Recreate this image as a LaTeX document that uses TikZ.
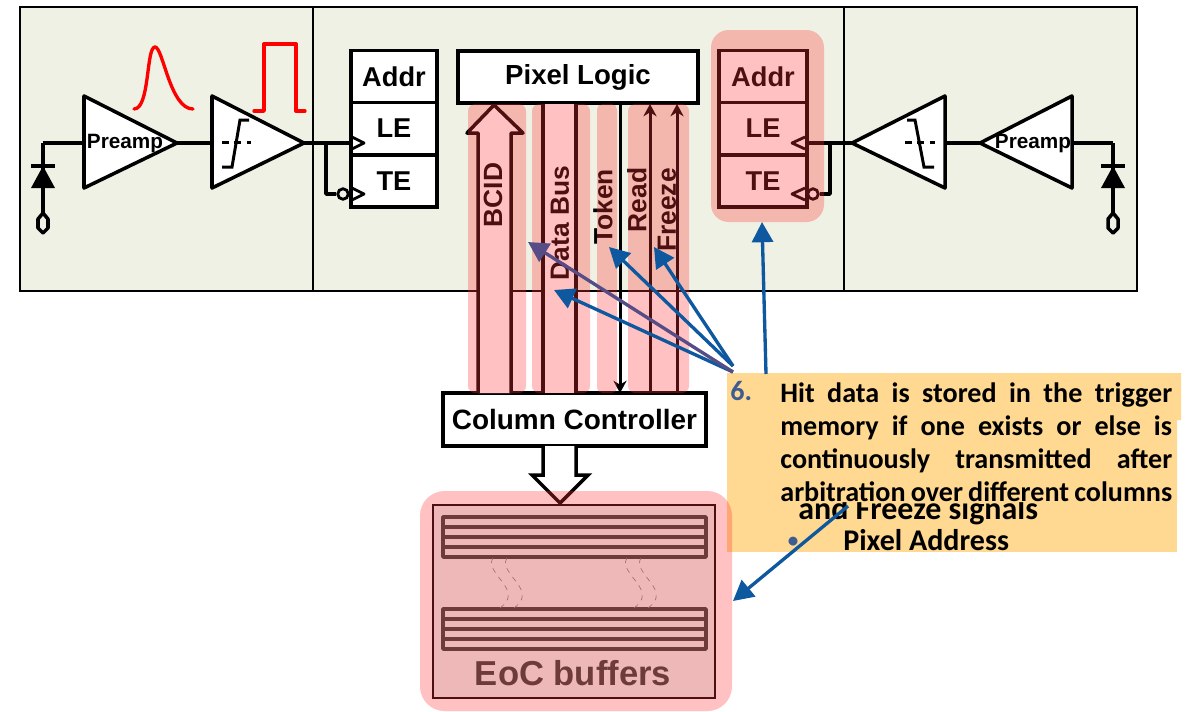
\documentclass[tikz,border=0pt]{standalone}
\usepackage{fontspec}
\setmainfont{Liberation Sans}
\newfontfamily\hitfont{Carlito}
\usetikzlibrary{arrows.meta,positioning}

\definecolor{panelbg}{RGB}{238,241,227}
\definecolor{hityellow}{RGB}{255,217,146}
\definecolor{hitblue}{RGB}{14,88,160}
\definecolor{hitpurple}{RGB}{86,76,134}
\definecolor{hitnum}{RGB}{62,92,146}
\definecolor{glow}{RGB}{255,50,50}
\definecolor{eocfill}{RGB}{232,242,242}
\definecolor{eoctext}{RGB}{48,64,64}

\tikzset{
  wire/.style={line width=2pt, line join=round},
  thinwire/.style={line width=1.6pt, line join=round},
  cell/.style={draw, line width=2pt, fill=white, inner sep=0pt, font=\bfseries\fontsize{15.5}{18}\selectfont},
  amptext/.style={font=\bfseries\fontsize{11.8}{14}\selectfont, inner sep=0pt},
  bubble/.style={circle, draw, line width=1.6pt, minimum size=6pt, inner sep=0pt},
  sigtext/.style={rotate=90, inner sep=0pt, font=\bfseries\fontsize{15}{18}\selectfont},
  sigarrow/.style={line width=1.7pt, -{Stealth[length=7pt,width=7.5pt]}},
  glowbox/.style={fill=glow, fill opacity=0.3, draw=none},
  hitline/.style={line width=1.9pt, color=hitblue, -{Triangle[length=11.5pt,width=12pt]}},
  hittext/.style={inner sep=0pt, align=left, font=\hitfont\bfseries\fontsize{16}{18.8}\selectfont},
  lowtext/.style={inner sep=0pt, font=\hitfont\bfseries\fontsize{17.1}{20}\selectfont}
}
\newcommand{\hitrow}[1]{\makebox[223pt][s]{#1}}

\begin{document}
\begin{tikzpicture}[x=0.02cm, y=-0.02cm]
  \useasboundingbox (0,0) rectangle (1192,711);

  % panels
  \draw[line width=1.3pt, fill=panelbg] (20,7) rectangle (1137,291);
  \coordinate (divLt) at (313,7);
  \coordinate (divLb) at (313,291);
  \coordinate (divRt) at (844,7);
  \coordinate (divRb) at (844,291);
  \draw[line width=1.5pt] (divLt) -- (divLb);
  \draw[line width=1.1pt] (divRt) -- (divRb);

  % amplifiers
  \draw[wire, fill=white] (84,96) -- (177,143) -- (84,188) -- cycle;
  \draw[wire, fill=white] (212,96) -- (304,143) -- (212,188) -- cycle;
  \draw[wire, fill=white] (1072,96) -- (980,143) -- (1072,188) -- cycle;
  \draw[wire, fill=white] (945,96) -- (852,143) -- (945,188) -- cycle;
  \coordinate (preLi) at (84,143);
  \coordinate (preLo) at (177,143);
  \coordinate (disLi) at (212,143);
  \coordinate (disLo) at (304,143);
  \coordinate (preRi) at (1072,143);
  \coordinate (preRo) at (980,143);
  \coordinate (disRi) at (945,143);
  \coordinate (disRo) at (852,143);
  \node[amptext] (preL) at (125,144) {Preamp};
  \node[amptext] (preR) at (1033,144) {Preamp};

  % thresholds
  \draw[line width=1.7pt, dash pattern=on 4pt off 3pt] (222,142) -- (251,142);
  \draw[line width=1.7pt] (222,167) -- (232,167) -- (240,120) -- (249,120);
  \draw[line width=1.7pt, dash pattern=on 4pt off 3pt] (905,142) -- (935,142);
  \draw[line width=1.7pt] (907,120) -- (915,120) -- (924,167) -- (934,167);

  % pulses
  \draw[red, line width=1.9pt, line cap=round] (134,109) .. controls (150,109) and (146,47) .. (155,47) .. controls (163,47) and (170,109) .. (193,109);
  \draw[red, line width=1.9pt, line cap=round, line join=round] (254,111) -- (264,111) -- (264,44) -- (296,44) -- (296,111) -- (305,111);

  % sensors
  \foreach \dx/\nm in {43/L, 1113/R} {
    \coordinate (dio\nm) at (\dx,143);
    \coordinate (pad\nm) at (\dx,213);
    \draw[wire] (dio\nm) -- (pad\nm);
    \draw[wire] (\dx-12,166) -- (\dx+12,166);
    \fill (\dx,166) -- (\dx+12,188) -- (\dx-12,188) -- cycle;
    \draw[wire, fill=panelbg] (\dx,213) -- (\dx+5,219) -- (\dx+5,228) -- (\dx,233) -- (\dx-5,228) -- (\dx-5,219) -- cycle;
  }
  \draw[wire] (preLi) -- (dioL);
  \draw[wire] (preLo) -- (disLi);
  \draw[wire] (preRi) -- (dioR);
  \draw[wire] (preRo) -- (disRi);

  % memory left
  \node[cell, minimum width=49pt, minimum height=29.5pt] (addrL) at (394,76.5) {Addr};
  \node[cell, minimum width=49pt, minimum height=29.5pt] (leL) at (394,128.5) {LE};
  \node[cell, minimum width=49pt, minimum height=29.5pt] (teL) at (394,181) {TE};
  \coordinate (clkLa) at (352,143);
  \coordinate (clkLb) at (326,143);
  \node[bubble, fill=panelbg] (bubL) at (343,194) {};
  \draw[wire] (disLo) -- (clkLa);
  \draw[wire] (clkLb) |- (bubL);
  \draw[thinwire] (352,137) -- (364,143) -- (352,149);
  \draw[thinwire] (352,188) -- (364,194) -- (352,200);

  % memory right
  \node[cell, minimum width=50pt, minimum height=29.5pt] (addrR) at (763,76.5) {Addr};
  \node[cell, minimum width=50pt, minimum height=29.5pt] (leR) at (763,128.5) {LE};
  \node[cell, minimum width=50pt, minimum height=29.5pt] (teR) at (763,181) {TE};
  \coordinate (clkRa) at (807,143);
  \coordinate (clkRb) at (830,143);
  \node[bubble, fill=white] (bubR) at (813,194) {};
  \draw[wire] (disRo) -- (clkRa);
  \draw[wire] (clkRb) |- (bubR);
  \draw[thinwire] (805,137) -- (792,143) -- (805,149);
  \draw[thinwire] (805,188) -- (792,194) -- (805,200);

  % column
  \node[cell, minimum width=136.5pt, minimum height=29.5pt, font=\bfseries\fontsize{15.7}{18}\selectfont] (logic) at (578,77) {Pixel Logic};
  \node[cell, minimum width=149.5pt, minimum height=30pt, font=\bfseries\fontsize{15.9}{20}\selectfont] (ctrl) at (574.5,419.5) {Column Controller};
  \draw[wire, fill=white] (478,393) -- (478,133) -- (467,133) -- (494,105) -- (523,133) -- (511,133) -- (511,393);
  \fill[white] (543,104) rectangle (576,393);
  \coordinate (busAt) at (543,104);
  \coordinate (busAb) at (543,393);
  \coordinate (busBt) at (576,104);
  \coordinate (busBb) at (576,393);
  \coordinate (tokT) at (620,104);
  \coordinate (tokB) at (620,393);
  \coordinate (rdT) at (650,104);
  \coordinate (rdB) at (650,393);
  \coordinate (frT) at (677,104);
  \coordinate (frB) at (677,393);
  \draw[wire] (busAt) -- (busAb);
  \draw[wire] (busBt) -- (busBb);
  \path
    (tokT) edge[sigarrow] (tokB)
    (rdB) edge[sigarrow] (rdT)
    (frB) edge[sigarrow] (frT);
  \node[sigtext] (bcid) at (493,195) {BCID};
  \node[sigtext] (dbus) at (560,223) {Data Bus};
  \node[sigtext] (token) at (603,207) {Token};
  \node[sigtext] (read) at (637,200) {Read};
  \node[sigtext] (freeze) at (667,210) {Freeze};

  % callout
  \fill[hityellow] (727,420) rectangle (1177,552);
  \node[lowtext, anchor=base west, font=\hitfont\bfseries\fontsize{18.2}{20}\selectfont] (andsig) at (798,519) {and Freeze signals};
  \fill[hityellow] (727,373) -- (1181,373) -- (1181,420) -- (1177,420) -- (1177,502) -- (727,502) -- cycle;
  \node[hittext, anchor=base west] (sixnum) at (730,400) {\color{hitnum}6.};
  \node[hittext, anchor=north west] (hit) at (780,382) {\hitrow{Hit data is stored in the trigger}\\\hitrow{memory if one exists or else is}\\\hitrow{continuously transmitted after}\\\hitrow{arbitration over different columns}};
  \node[lowtext, anchor=base, font=\hitfont\bfseries\fontsize{12}{14}\selectfont] (dot) at (793,547) {\color{hitnum}•};
  \node[lowtext, anchor=base west] (addrtxt) at (843,550) {Pixel Address};

  % buffers
  \draw[line width=1pt, fill=eocfill] (433,505) rectangle (715,698);
  \foreach \sy in {517, 609} {
    \draw[wire, eoctext] (443,\sy) rectangle (706,\sy+40);
    \foreach \sl in {10,20,30} {
      \draw[wire, eoctext] (443,\sy+\sl) -- (706,\sy+\sl);
    }
  }
  \foreach \wx in {0,14,134,148} {
    \draw[gray, line width=0.35pt, dashed] (493+\wx,558) .. controls (485+\wx,570) and (512+\wx,585) .. (508+\wx,598) .. controls (507+\wx,602) and (504+\wx,605) .. (500+\wx,608);
  }
  \node[inner sep=0pt, text=eoctext, font=\bfseries\fontsize{19.7}{22}\selectfont] (eoc) at (573,673) {EoC buffers};
  \draw[wire, fill=white, line join=miter] (543,446) -- (543,475) -- (532,475) -- (560,503) -- (588,475) -- (576,475) -- (576,446);

  % highlights
  \fill[glowbox, rounded corners=14pt] (420,491) rectangle (732,711);
  \fill[glowbox, rounded corners=10pt] (711,30) rectangle (824,222);
  \fill[glowbox, rounded corners=4pt] (468,104) rectangle (526,393);
  \fill[glowbox, rounded corners=4pt] (532,104) rectangle (590,393);
  \fill[glowbox, rounded corners=3pt] (597,104) rectangle (617,393);
  \fill[glowbox, rounded corners=4pt] (628,104) rectangle (689,393);

  % pointers
  \coordinate (fromA) at (733,366);
  \coordinate (fromB) at (733,372);
  \coordinate (fromC) at (766,374);
  \coordinate (fromD) at (848,506);
  \coordinate (toBus) at (554,290);
  \coordinate (toBcid) at (528,242);
  \coordinate (toTok) at (609,247);
  \coordinate (toFr) at (654,247);
  \coordinate (toMem) at (762,222);
  \coordinate (toEoc) at (733,601);
  \path
    (fromB) edge[hitline] (toBus)
    (fromA) edge[hitline] (toTok)
    (fromA) edge[hitline] (toFr)
    (fromC) edge[hitline] (toMem)
    (fromD) edge[hitline] (toEoc)
    (fromB) edge[hitline, color=hitpurple] (toBcid);
\end{tikzpicture}
\end{document}
